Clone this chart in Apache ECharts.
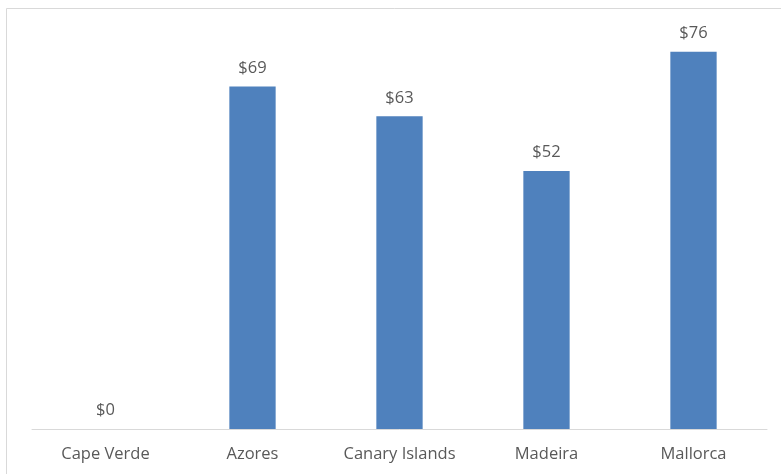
<!DOCTYPE html>
<html>
<head>
<meta charset="utf-8">
<script src="https://cdn.jsdelivr.net/npm/echarts@6/dist/echarts.min.js"></script>
<style>
  html, body { margin: 0; padding: 0; background: #fff; }
  #chart { width: 781px; height: 474px; }
</style>
</head>
<body>
<div id="chart"></div>
<script>
const categories = ['Cape Verde', 'Azores', 'Canary Islands', 'Madeira', 'Mallorca']
const prices = [0, 69, 63, 52, 76]

const FONT = "'Open Sans', 'Liberation Sans', sans-serif"
const TEXT = '#595959'

const chart = echarts.init(document.getElementById('chart'))

chart.setOption({
  backgroundColor: '#fff',
  animation: false,
  graphic: [
    {
      type: 'rect',
      shape: { x: 6.5, y: 8.5, width: 900, height: 600 },
      style: { fill: 'none', stroke: '#d9d9d9', lineWidth: 1 },
      silent: true,
    },
  ],
  grid: { left: 32, right: 14, top: 32, bottom: 45 },
  xAxis: {
    type: 'category',
    data: categories,
    axisLine: { lineStyle: { color: '#d9d9d9', width: 1 } },
    axisTick: { show: false },
    axisLabel: { color: TEXT, fontSize: 16.5, fontFamily: FONT, margin: 17 },
  },
  yAxis: {
    type: 'value',
    min: 0,
    max: 80,
    show: false,
    splitLine: { show: false },
  },
  series: [
    {
      type: 'bar',
      data: prices,
      barWidth: '31.5%',
      itemStyle: { color: '#4F81BD' },
      label: {
        show: true,
        position: 'top',
        distance: 10,
        color: TEXT,
        fontSize: 16.5,
        fontFamily: FONT,
        formatter: (p) => '$' + p.value,
      },
    },
  ],
})
</script>
</body>
</html>
